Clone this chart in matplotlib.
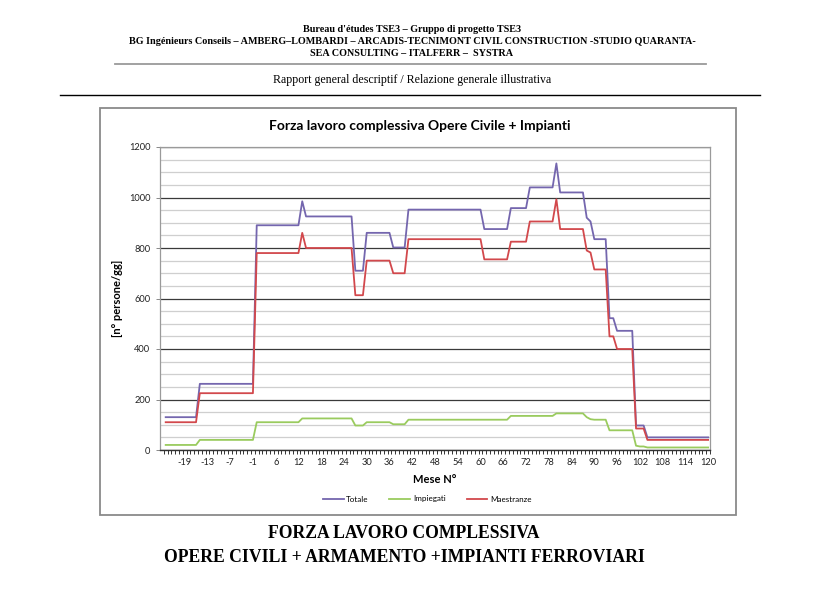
import matplotlib
matplotlib.use("Agg")
import matplotlib.pyplot as plt
from matplotlib.patches import Rectangle
from matplotlib.lines import Line2D

W, H = 836, 594

# ---- data ----
months = list(range(-24, 0)) + list(range(1, 121))
tick_months = [-19, -13, -7, -1] + list(range(6, 121, 6))

totale = ([130] * 9 + [262] * 15 +
          [890] * 12 + [985] + [925] * 13 + [710] * 3 + [860] * 7 + [802] * 4 +
          [952] * 20 + [875] * 7 + [958] * 5 + [1040] * 7 + [1135] + [1020] * 7 +
          [920] + [905] + [835] * 4 + [522] * 2 + [472] * 5 + [97] * 3 + [50] * 17)
impiegati = ([20] * 9 + [40] * 15 +
             [110] * 12 + [125] + [125] * 13 + [97] * 3 + [110] * 7 + [102] * 4 +
             [120] * 20 + [120] * 7 + [135] * 5 + [135] * 7 + [145] + [145] * 7 +
             [130] + [122] + [120] * 4 + [78] * 2 + [78] * 5 + [17] + [14] * 2 + [10] * 17)
maestranze = ([110] * 9 + [225] * 15 +
              [780] * 12 + [860] + [800] * 13 + [613] * 3 + [750] * 7 + [700] * 4 +
              [835] * 20 + [755] * 7 + [825] * 5 + [905] * 7 + [993] + [875] * 7 +
              [790] + [782] + [715] * 4 + [450] * 2 + [400] * 5 + [85] * 3 + [40] * 17)

series_names = ["Totale", "Impiegati", "Maestranze"]
series_colors = ["#7466AE", "#9ACB5E", "#D2484C"]

header_lines = ["Bureau d'études TSE3 – Gruppo di progetto TSE3",
                "BG Ingénieurs Conseils – AMBERG–LOMBARDI – ARCADIS-TECNIMONT CIVIL CONSTRUCTION -STUDIO QUARANTA-",
                "SEA CONSULTING – ITALFERR –  SYSTRA"]
subheader = "Rapport general descriptif / Relazione generale illustrativa"
chart_title = "Forza lavoro complessiva Opere Civile + Impianti"
caption = ["FORZA LAVORO COMPLESSIVA", "OPERE CIVILI + ARMAMENTO +IMPIANTI FERROVIARI"]

# ---- figure ----
fig = plt.figure(figsize=(W / 100, H / 100), dpi=100)
fig.patch.set_facecolor("white")


def fx(x):
    return x / W


def fy(y):
    return 1 - y / H


serif = "Liberation Serif"
sans = "Lato"

for txt, y in zip(header_lines, [29, 41, 53]):
    fig.text(fx(412), fy(y), txt, ha="center", va="center", fontsize=7.3,
             fontweight="bold", family=serif)
fig.add_artist(Line2D([fx(115), fx(706)], [fy(64), fy(64)], color="#9a9a9a", lw=1.3))
fig.text(fx(412), fy(80), subheader, ha="center", va="center", fontsize=8.6, family=serif)
fig.add_artist(Line2D([fx(60), fx(760)], [fy(95), fy(95)], color="black", lw=1.0))

# chart box
fig.add_artist(Rectangle((fx(100), fy(515)), fx(736) - fx(100), fy(108) - fy(515),
                         transform=fig.transFigure, fill=False, edgecolor="#8a8a8a", lw=1.3))

for txt, y in zip(caption, [534, 557]):
    fig.text(fx(404), fy(y), txt, ha="center", va="center", fontsize=12.7,
             fontweight="bold", family=serif)

# axes
ax = fig.add_axes([fx(160), fy(450), fx(710) - fx(160), fy(147) - fy(450)])
x = list(range(len(months)))
for vals, name, col in zip([totale, impiegati, maestranze], series_names, series_colors):
    ax.plot(x, vals, color=col, lw=1.3, label=name, zorder=3)

ax.set_xlim(-1.5, len(months) - 0.5)
ax.set_ylim(0, 1200)

ax.set_yticks(range(0, 1201, 200))
ax.set_yticks(range(0, 1201, 50), minor=True)
ax.grid(axis="y", which="minor", color="#cfcfcf", lw=0.9, zorder=0)
ax.grid(axis="y", which="major", color="#3a3a3a", lw=0.9, zorder=1)

ax.set_xticks([months.index(m) for m in tick_months])
ax.set_xticklabels([str(m) for m in tick_months])
ax.set_xticks([i - 0.5 for i in range(len(months) + 1)], minor=True)
ax.tick_params(axis="x", which="major", length=0, pad=6, labelsize=6.7, labelcolor="#222222")
ax.tick_params(axis="x", which="minor", length=3, width=0.7, color="#333333", direction="out")
ax.tick_params(axis="y", which="major", length=3, width=0.7, color="#888888",
               labelsize=6.7, labelcolor="#222222", pad=4)
ax.tick_params(axis="y", which="minor", length=0)
for lab in ax.get_xticklabels() + ax.get_yticklabels():
    lab.set_family(sans)

for s in ["top", "right", "left"]:
    ax.spines[s].set_color("#9a9a9a")
    ax.spines[s].set_linewidth(0.9)
ax.spines["bottom"].set_color("#333333")
ax.spines["bottom"].set_linewidth(1.0)

ax.set_xlabel("Mese N°", fontsize=8, fontweight="bold", family=sans, labelpad=5)
ax.set_ylabel("[n° persone/gg]", fontsize=8, fontweight="bold", family=sans, labelpad=4)

fig.text(fx(420), fy(126), chart_title, ha="center", va="center", fontsize=10,
         fontweight="bold", family=sans)

leg = ax.legend(loc="center", bbox_to_anchor=(fx(427), fy(499)), bbox_transform=fig.transFigure,
                ncol=3, frameon=False, fontsize=5.8, handlelength=2.6, columnspacing=2.6,
                handletextpad=0.3)
for t in leg.get_texts():
    t.set_family(sans)

fig.savefig("out.png", dpi=100)
